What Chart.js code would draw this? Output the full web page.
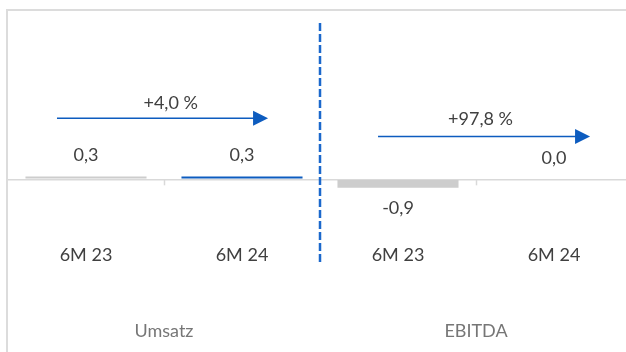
<!DOCTYPE html>
<html>
<head>
<meta charset="utf-8">
<script src="https://cdn.jsdelivr.net/npm/chart.js@4/dist/chart.umd.min.js"></script>
<style>
  html, body { margin: 0; padding: 0; background: #fff; overflow: hidden; width: 626px; height: 352px; }
  #frame { position: absolute; left: 6px; top: 9px; width: 700px; height: 400px;
           border-top: 2px solid #dcdcdc; border-left: 2px solid #dcdcdc; }
  #wrap { position: absolute; left: 0; top: 0; width: 640px; height: 352px; }
</style>
</head>
<body>
<div id="frame"></div>
<div id="wrap"><canvas id="c" width="640" height="352"></canvas></div>
<script>
// Half-year figures (EUR m) for revenue and EBITDA
const periods = ['6M 23', '6M 24', '6M 23', '6M 24'];
const groups = ['Umsatz', 'EBITDA'];
const values = [0.3, 0.3, -0.9, 0.0];
const growthLabels = ['+4,0 %', '+97,8 %'];

const GRAY = '#cdcdcd';
const BLUE = '#0d5cbf';
const FONT = 'Lato, "Noto Sans", sans-serif';

// Growth arrows, expressed in category index / value units
const arrows = [
  { from: -0.186, to: 1.167, y: 6.54, text: growthLabels[0], tx: 0.543, ty: 8.18 },
  { from: 1.872, to: 3.231, y: 4.59, text: growthLabels[1], tx: 2.529, ty: 6.39 }
];

const fmt = v => v.toFixed(1).replace('.', ',');

const overlay = {
  id: 'overlay',
  afterDatasetsDraw(chart) {
    const ctx = chart.ctx;
    const xs = chart.scales.x;
    const ys = chart.scales.y;
    const zero = ys.getPixelForValue(0);
    ctx.save();

    // category tick marks between the two periods of each group
    ctx.strokeStyle = '#d9d9d9';
    ctx.lineWidth = 1.5;
    [0.5, 2.5].forEach(i => {
      const x = Math.round(xs.getPixelForValue(i)) + 0.5;
      ctx.beginPath();
      ctx.moveTo(x, zero);
      ctx.lineTo(x, zero + 6);
      ctx.stroke();
    });

    // dashed separator between Umsatz and EBITDA
    const sx = xs.getPixelForValue(1.5);
    ctx.strokeStyle = '#1b68cc';
    ctx.lineWidth = 2.5;
    ctx.setLineDash([8, 3]);
    ctx.beginPath();
    ctx.moveTo(sx, ys.getPixelForValue(16.75));
    ctx.lineTo(sx, ys.getPixelForValue(-8.9));
    ctx.stroke();
    ctx.setLineDash([]);

    // growth arrows
    ctx.font = '18px ' + FONT;
    ctx.textAlign = 'center';
    ctx.textBaseline = 'middle';
    arrows.forEach(a => {
      const x0 = xs.getPixelForValue(a.from);
      const x1 = xs.getPixelForValue(a.to);
      const y = ys.getPixelForValue(a.y);
      const head = 15;
      ctx.strokeStyle = BLUE;
      ctx.fillStyle = BLUE;
      ctx.lineWidth = 1.5;
      ctx.beginPath();
      ctx.moveTo(x0, y);
      ctx.lineTo(x1 - head + 1, y);
      ctx.stroke();
      ctx.beginPath();
      ctx.moveTo(x1, y);
      ctx.lineTo(x1 - head, y - 7.5);
      ctx.lineTo(x1 - head, y + 7.5);
      ctx.closePath();
      ctx.fill();
      ctx.fillStyle = '#404040';
      ctx.fillText(a.text, xs.getPixelForValue(a.tx), ys.getPixelForValue(a.ty));
    });

    // value labels
    const meta = chart.getDatasetMeta(0);
    ctx.fillStyle = '#404040';
    meta.data.forEach((bar, i) => {
      const v = values[i];
      const y = v >= 0 ? bar.y - 21 : bar.y + 20;
      ctx.fillText(fmt(v), bar.x, y);
    });
    ctx.restore();
  }
};

new Chart(document.getElementById('c'), {
  type: 'bar',
  data: {
    labels: periods,
    datasets: [{
      data: values,
      backgroundColor: periods.map((p, i) => (i % 2 === 0 ? GRAY : BLUE)),
      borderWidth: 0,
      barPercentage: 0.776,
      categoryPercentage: 1
    }]
  },
  options: {
    responsive: false,
    devicePixelRatio: 1,
    animation: false,
    layout: { padding: { left: 8, right: 8, top: 30, bottom: 9.5 } },
    plugins: { legend: { display: false }, tooltip: { enabled: false } },
    scales: {
      x: {
        type: 'category',
        offset: true,
        grid: { display: false },
        border: { display: false },
        ticks: { color: '#404040', font: { family: FONT, size: 18 }, padding: 1, maxRotation: 0, autoSkip: false },
        afterFit: s => { s.height = 34; }
      },
      x2: {
        type: 'category',
        labels: groups,
        position: 'bottom',
        offset: true,
        grid: { display: false },
        border: { display: false },
        ticks: { color: '#767676', font: { family: FONT, size: 18 }, padding: 42.6, maxRotation: 0, autoSkip: false },
        afterFit: s => { s.height = 73.2; }
      },
      y: {
        min: -6,
        max: 16,
        grid: {
          drawTicks: false,
          lineWidth: 1.5,
          color: c => (c.tick && c.tick.value === 0 ? '#d9d9d9' : 'rgba(0,0,0,0)')
        },
        border: { display: false },
        ticks: { display: false, stepSize: 1 },
        afterFit: s => { s.width = 0; }
      }
    }
  },
  plugins: [overlay]
});
</script>
</body>
</html>
